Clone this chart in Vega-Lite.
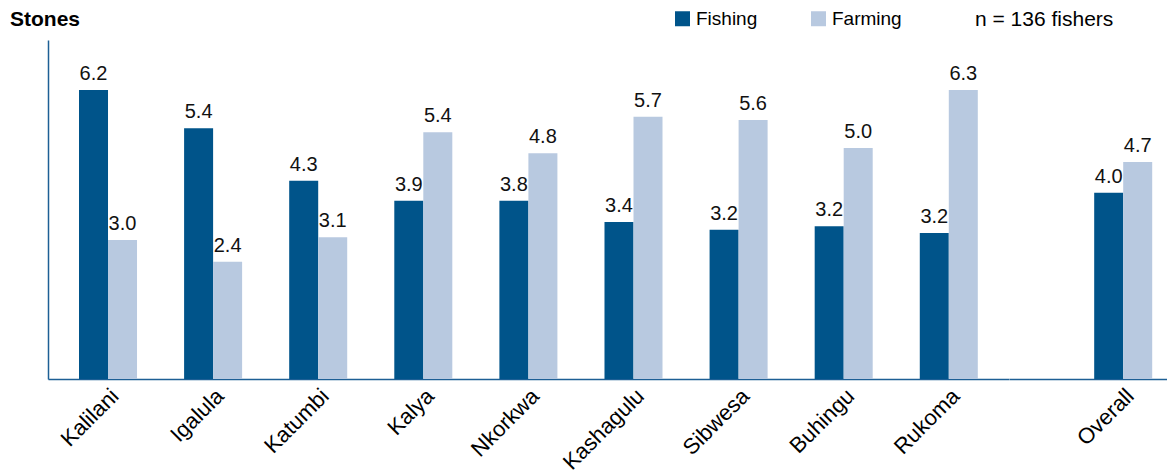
{
  "$schema": "https://vega.github.io/schema/vega-lite/v6.json",
  "padding": {"left": 10, "top": 9, "right": 0, "bottom": 0},
  "background": "white",
  "spacing": 0,
  "bounds": "flush",
  "config": {
    "view": {"stroke": null},
    "font": "Liberation Sans",
    "axisX": {"domainColor": "#1d5f95", "domainWidth": 1.5, "ticks": false, "labelAngle": -45, "labelFontSize": 22, "labelColor": "black", "title": null, "labelPadding": 6},
    "legend": {"orient": "none", "legendX": 625, "legendY": -31, "direction": "horizontal", "symbolType": "square", "symbolSize": 225, "symbolStrokeWidth": 0, "symbolOpacity": 1, "labelFontSize": 19, "labelColor": "black", "labelOffset": 4, "columnPadding": 51, "padding": 0}
  },
  "data": {"values": [
    {"village": "Kalilani", "type": "Fishing", "value": 6.26, "label": "6.2"},
    {"village": "Kalilani", "type": "Farming", "value": 3.01, "label": "3.0"},
    {"village": "Igalula", "type": "Fishing", "value": 5.43, "label": "5.4"},
    {"village": "Igalula", "type": "Farming", "value": 2.54, "label": "2.4"},
    {"village": "Katumbi", "type": "Fishing", "value": 4.29, "label": "4.3"},
    {"village": "Katumbi", "type": "Farming", "value": 3.07, "label": "3.1"},
    {"village": "Kalya", "type": "Fishing", "value": 3.86, "label": "3.9"},
    {"village": "Kalya", "type": "Farming", "value": 5.34, "label": "5.4"},
    {"village": "Nkorkwa", "type": "Fishing", "value": 3.86, "label": "3.8"},
    {"village": "Nkorkwa", "type": "Farming", "value": 4.89, "label": "4.8"},
    {"village": "Kashagulu", "type": "Fishing", "value": 3.40, "label": "3.4"},
    {"village": "Kashagulu", "type": "Farming", "value": 5.68, "label": "5.7"},
    {"village": "Sibwesa", "type": "Fishing", "value": 3.23, "label": "3.2"},
    {"village": "Sibwesa", "type": "Farming", "value": 5.61, "label": "5.6"},
    {"village": "Buhingu", "type": "Fishing", "value": 3.31, "label": "3.2"},
    {"village": "Buhingu", "type": "Farming", "value": 5.00, "label": "5.0"},
    {"village": "Rukoma", "type": "Fishing", "value": 3.16, "label": "3.2"},
    {"village": "Rukoma", "type": "Farming", "value": 6.26, "label": "6.3"},
    {"village": "Overall", "type": "Fishing", "value": 4.03, "label": "4.0"},
    {"village": "Overall", "type": "Farming", "value": 4.70, "label": "4.7"}
  ]},
  "hconcat": [
    {
      "width": 960.8,
      "height": 339,
      "title": {"text": "Stones", "anchor": "start", "fontSize": 21, "fontWeight": "bold", "dx": -38, "offset": 10, "color": "black"},
      "transform": [{"filter": "datum.village !== 'Overall'"}],
      "encoding": {
        "x": {"field": "village", "type": "nominal", "sort": ["Kalilani", "Igalula", "Katumbi", "Kalya", "Nkorkwa", "Kashagulu", "Sibwesa", "Buhingu", "Rukoma"], "scale": {"paddingInner": 0.448, "paddingOuter": 0.295}},
        "xOffset": {"field": "type", "type": "nominal", "sort": ["Fishing", "Farming"]},
        "y": {"field": "value", "type": "quantitative", "scale": {"domain": [0, 7.34], "nice": false}, "axis": {"domain": true, "domainColor": "#1d5f95", "domainWidth": 1.5, "ticks": false, "labels": false, "grid": false, "title": null}}
      },
      "layer": [
        {"mark": {"type": "bar"}, "encoding": {"color": {"field": "type", "type": "nominal", "sort": ["Fishing", "Farming"], "scale": {"domain": ["Fishing", "Farming"], "range": ["#00548a", "#b8c9e0"]}, "legend": {"title": null}}}},
        {"mark": {"type": "text", "baseline": "alphabetic", "dy": -10, "fontSize": 20, "color": "#111111"}, "encoding": {"text": {"field": "label", "type": "nominal"}}}
      ]
    },
    {
      "width": 158,
      "height": 339,
      "title": {"text": "n = 136 fishers", "anchor": "start", "fontSize": 21, "fontWeight": "normal", "dx": -34, "offset": 10, "color": "black"},
      "transform": [{"filter": "datum.village === 'Overall'"}],
      "encoding": {
        "x": {"field": "village", "type": "nominal", "scale": {"paddingInner": 0.448, "paddingOuter": 0.4757, "align": 0.852}},
        "xOffset": {"field": "type", "type": "nominal", "sort": ["Fishing", "Farming"]},
        "y": {"field": "value", "type": "quantitative", "scale": {"domain": [0, 7.34], "nice": false}, "axis": null}
      },
      "layer": [
        {"mark": {"type": "bar"}, "encoding": {"color": {"field": "type", "type": "nominal", "sort": ["Fishing", "Farming"], "scale": {"domain": ["Fishing", "Farming"], "range": ["#00548a", "#b8c9e0"]}, "legend": {"title": null}}}},
        {"mark": {"type": "text", "baseline": "alphabetic", "dy": -10, "fontSize": 20, "color": "#111111"}, "encoding": {"text": {"field": "label", "type": "nominal"}}}
      ]
    }
  ]
}
